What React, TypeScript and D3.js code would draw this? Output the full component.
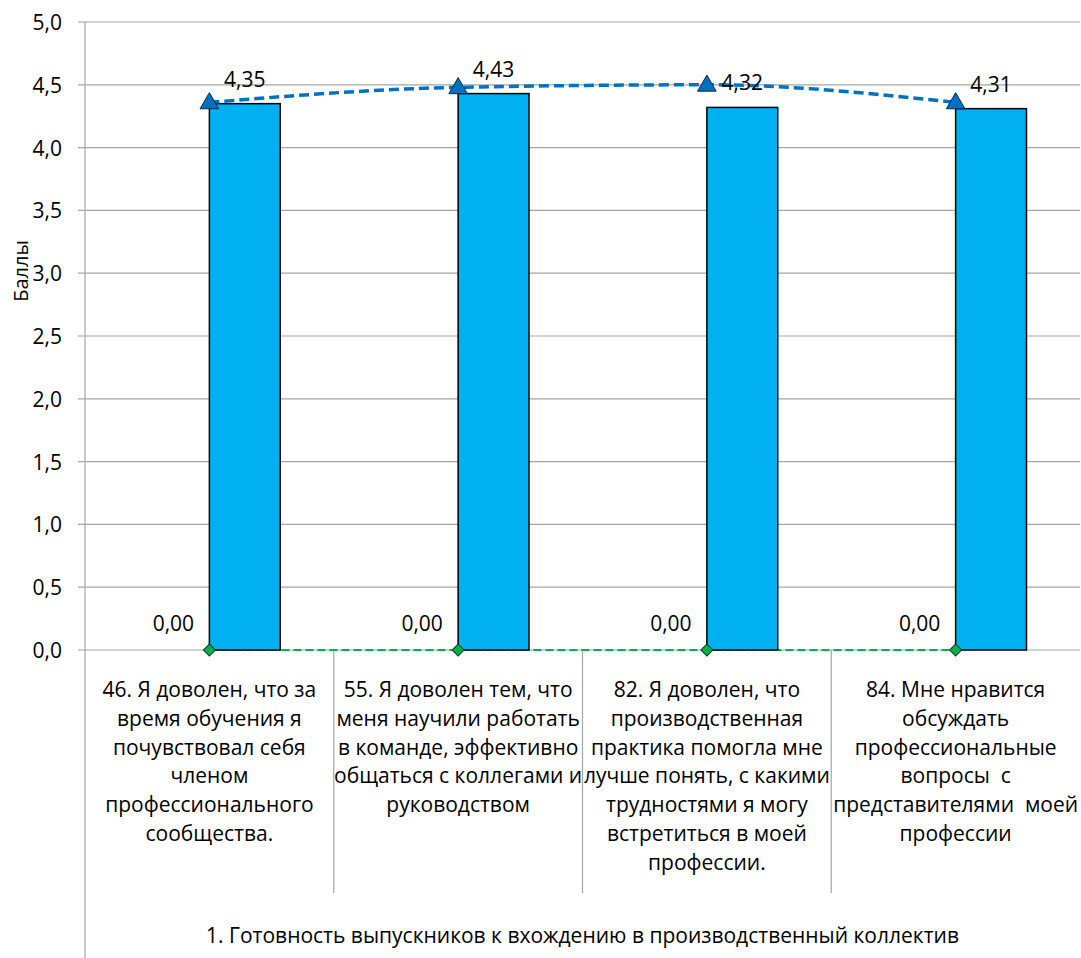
import React from "react";
import * as d3 from "d3";

const categories: string[][] = [
  ["46. Я доволен, что за", "время обучения я", "почувствовал себя", "членом", "профессионального", "сообщества."],
  ["55. Я доволен тем, что", "меня научили работать", "в команде, эффективно", "общаться с коллегами и", "руководством"],
  ["82. Я доволен, что", "производственная", "практика помогла мне", "лучше понять, с какими", "трудностями я могу", "встретиться в моей", "профессии."],
  ["84. Мне нравится", "обсуждать", "профессиональные", "вопросы  с", "представителями  моей", "профессии"],
];
const groupLabel = "1. Готовность выпускников к вхождению в производственный коллектив";
const barValues = [4.35, 4.43, 4.32, 4.31];
const zeroValues = [0, 0, 0, 0];
const lineValues = [4.36, 4.48, 4.5, 4.36];
const yTicks = [0, 0.5, 1, 1.5, 2, 2.5, 3, 3.5, 4, 4.5, 5];
const yTitle = "Баллы";

const W = 1081;
const H = 958;
const left = 85;
const right = 1080;
const top = 22;
const bottom = 650;
const FONT = "'Open Sans', 'Noto Sans', sans-serif";
const FS = 21;

const fmt = (v: number, d: number) => d3.format(`.${d}f`)(v).replace(".", ",");

export default function App() {
  const x = d3.scaleBand<number>().domain(d3.range(categories.length)).range([left, right]).padding(0);
  const y = d3.scaleLinear().domain([0, 5]).range([bottom, top]);
  const bw = x.bandwidth();
  const barW = bw / 3.51;
  const cx = (i: number) => (x(i) as number) + bw / 2;

  const blueLine = d3
    .line<number>()
    .x((_, i) => cx(i))
    .y((d) => y(d))
    .curve(d3.curveMonotoneX);
  const greenLine = d3
    .line<number>()
    .x((_, i) => cx(i))
    .y((d) => y(d));

  const tri = d3.symbol().type(d3.symbolTriangle).size(150)() as string;
  const dia = d3.symbol().type(d3.symbolSquare).size(72)() as string;

  const lineH = 28.8;
  const labelTop = 689;

  return (
    <svg
      width={W}
      height={H}
      style={{ position: "absolute", left: 0, top: 0, background: "#fff" }}
      fontFamily={FONT}
    >
      {yTicks.map((t) => (
        <g key={t}>
          <line x1={left - 7} x2={right} y1={y(t)} y2={y(t)} stroke="#A6A6A6" strokeWidth={1.2} />
          <text x={62} y={y(t)} textAnchor="end" dominantBaseline="central" fontSize={FS} fill="#000">
            {fmt(t, 1)}
          </text>
        </g>
      ))}
      <line x1={left} x2={left} y1={top} y2={H} stroke="#A6A6A6" strokeWidth={1.2} />
      {d3.range(1, categories.length).map((i) => (
        <line key={i} x1={x(i) as number} x2={x(i) as number} y1={bottom} y2={893} stroke="#A6A6A6" strokeWidth={1.2} />
      ))}
      <text transform={`translate(20,${271}) rotate(-90)`} textAnchor="middle" dominantBaseline="central" fontSize={20}>
        {yTitle}
      </text>

      <path d={greenLine(zeroValues) as string} fill="none" stroke="#00B050" strokeWidth={2} strokeDasharray="8,4" />

      {barValues.map((v, i) => (
        <rect key={i} x={cx(i)} y={y(v)} width={barW} height={y(0) - y(v)} fill="#00B0F0" stroke="#000" strokeWidth={1.5} />
      ))}

      <path d={blueLine(lineValues) as string} fill="none" stroke="#0070C0" strokeWidth={3.5} strokeDasharray="10,5" />
      {lineValues.map((v, i) => (
        <path key={i} d={tri} transform={`translate(${cx(i)},${y(v) + 1})`} fill="#0070C0" stroke="#0F2A4A" strokeWidth={1} />
      ))}
      {zeroValues.map((v, i) => (
        <path key={i} d={dia} transform={`translate(${cx(i)},${y(v)}) rotate(45)`} fill="#00B050" stroke="#0F3D1F" strokeWidth={1} />
      ))}

      {barValues.map((v, i) => (
        <text key={i} x={cx(i) + barW / 2} y={y(v) - 25} textAnchor="middle" dominantBaseline="central" fontSize={FS}>
          {fmt(v, 2)}
        </text>
      ))}
      {zeroValues.map((v, i) => (
        <text key={i} x={cx(i) - 36} y={y(v) - 27} textAnchor="middle" dominantBaseline="central" fontSize={FS}>
          {fmt(v, 2)}
        </text>
      ))}

      {categories.map((lines, i) => (
        <text key={i} textAnchor="middle" fontSize={FS} fill="#000">
          {lines.map((l, j) => (
            <tspan key={j} x={cx(i)} y={labelTop + j * lineH} dominantBaseline="central" style={{ whiteSpace: "pre" }}>
              {l}
            </tspan>
          ))}
        </text>
      ))}
      <text x={(left + right) / 2} y={935} textAnchor="middle" dominantBaseline="central" fontSize={FS}>
        {groupLabel}
      </text>
    </svg>
  );
}
